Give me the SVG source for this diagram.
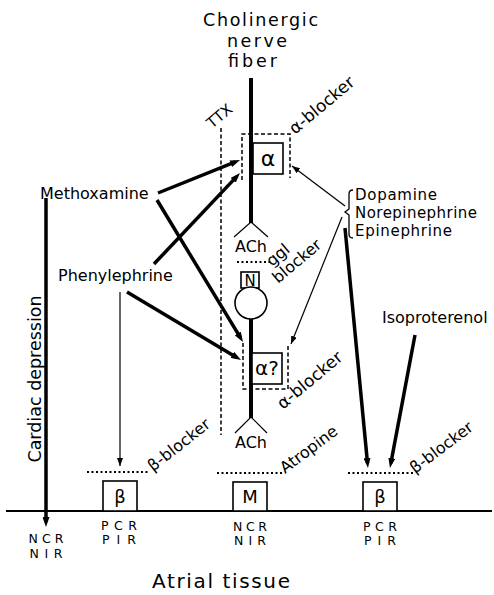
<svg xmlns="http://www.w3.org/2000/svg" width="494" height="595" viewBox="0 0 494 595">
<style>
.t{font-family:"DejaVu Sans","Liberation Sans",sans-serif;fill:#000}
.s16{font-size:16px}
.s15{font-size:15px}
.thick{stroke:#000;stroke-width:3.5;fill:none}
.thin{stroke:#000;stroke-width:1.2;fill:none}
.dot{stroke:#000;stroke-width:2;stroke-dasharray:2 2.5;fill:none}
.dash{stroke:#000;stroke-width:1.5;stroke-dasharray:4 2.5;fill:none}
.box{stroke:#000;stroke-width:1.6;fill:#fff}
.fib{stroke:#000;stroke-width:4;fill:none}
.br{stroke:#000;stroke-width:1.3;fill:none}
.code{font-size:12.5px}
.ttl{font-size:17.5px}
</style>
<defs>
<marker id="ah" markerUnits="userSpaceOnUse" markerWidth="10" markerHeight="7" refX="5" refY="3.5" orient="auto"><path d="M0,0 L10,3.5 L0,7 z" fill="#000"/></marker>
<marker id="ahs" markerUnits="userSpaceOnUse" markerWidth="8" markerHeight="6" refX="8" refY="3" orient="auto"><path d="M0,0 L8,3 L0,6 z" fill="#000"/></marker>
</defs>
<rect width="494" height="595" fill="#fff"/>

<g id="fiber">
<text class="t ttl" x="203" y="26" textLength="115">Cholinergic</text>
<text class="t ttl" x="227" y="46.5" textLength="60">nerve</text>
<text class="t ttl" x="228" y="67" textLength="49">fiber</text>
<line class="fib" x1="251" y1="78" x2="251" y2="223"/>
<path class="thin" stroke-width="1.5" d="M234,237 L251,222 L268,237"/>
<text class="t s16" x="251" y="252" text-anchor="middle">ACh</text>
<line class="fib" x1="251" y1="318" x2="251" y2="418"/>
<path class="thin" stroke-width="1.5" d="M235,433 L251,417 L267,433"/>
<text class="t s16" x="251" y="448" text-anchor="middle">ACh</text>
</g>

<g id="alpha-upper">
<path class="dash" d="M242,180 V134 H290 V178"/>
<rect class="box" x="253" y="143" width="30" height="31"/>
<text class="t" font-size="22" x="268" y="166" text-anchor="middle">α</text>
<text class="t" font-size="17" transform="translate(295,135) rotate(-40)">α-blocker</text>
</g>

<g id="ttx">
<line class="dash" x1="221" y1="128" x2="221" y2="435"/>
<text class="t" font-size="15" transform="translate(212,129) rotate(-40)">TTX</text>
</g>

<g id="ganglion">
<line class="dot" x1="237" y1="262" x2="270" y2="262"/>
<text class="t s16" transform="translate(272,267) rotate(-40)">ggl</text>
<text class="t s16" transform="translate(278,284) rotate(-40)">blocker</text>
<rect class="box" x="241" y="272" width="18" height="16"/>
<text class="t" font-size="15" x="250" y="286" text-anchor="middle">N</text>
<circle class="box" cx="251" cy="303" r="16"/>
</g>

<g id="alpha-lower">
<path class="dash" d="M243,343 V389 H288 V346"/>
<rect class="box" x="252" y="353" width="30" height="31"/>
<text class="t" font-size="20" x="267" y="375" text-anchor="middle">α?</text>
<text class="t" font-size="17" transform="translate(283,410) rotate(-40)">α-blocker</text>
</g>

<g id="methoxamine">
<text class="t s16" x="40" y="199">Methoxamine</text>
</g>
<g id="phenylephrine">
<text class="t s16" x="58" y="281">Phenylephrine</text>
</g>
<g id="catecholamines">
<path class="br" d="M353,190 Q349,190 349,194 V209 L345,212 L349,215 V234 Q349,238 353,238"/>
<text class="t s15" x="355" y="200" textLength="82">Dopamine</text>
<text class="t s15" x="355" y="218" textLength="122">Norepinephrine</text>
<text class="t s15" x="355" y="236" textLength="97">Epinephrine</text>
</g>
<g id="isoproterenol">
<text class="t s16" x="382" y="323">Isoproterenol</text>
</g>
<g id="cardiac">
<text class="t" font-size="17.5" transform="translate(41,379) rotate(-90)" text-anchor="middle">Cardiac depression</text>
</g>

<g id="tissue">
<line stroke="#000" stroke-width="2" x1="6" y1="511" x2="492" y2="511"/>
<text class="t" font-size="20" x="221" y="588" text-anchor="middle" textLength="138">Atrial tissue</text>
<text class="t code" x="46" y="543" text-anchor="middle" textLength="35" lengthAdjust="spacing">NCR</text>
<text class="t code" x="46" y="557.5" text-anchor="middle" textLength="33" lengthAdjust="spacing">NIR</text>
</g>

<g id="beta-left">
<line class="dot" x1="87" y1="472" x2="150" y2="472"/>
<text class="t s16" transform="translate(153,472) rotate(-38)">β-blocker</text>
<rect class="box" x="103" y="481" width="34" height="30"/>
<text class="t" font-size="18" x="120" y="503" text-anchor="middle">β</text>
<text class="t code" x="119" y="529.5" text-anchor="middle" textLength="36" lengthAdjust="spacing">PCR</text>
<text class="t code" x="119" y="544" text-anchor="middle" textLength="34" lengthAdjust="spacing">PIR</text>
</g>

<g id="muscarinic">
<line class="dot" x1="217" y1="473" x2="282" y2="473"/>
<text class="t s16" transform="translate(285,474) rotate(-37)">Atropine</text>
<rect class="box" x="233" y="482" width="34" height="29"/>
<text class="t" font-size="18" x="250" y="503" text-anchor="middle">M</text>
<text class="t code" x="250" y="530.5" text-anchor="middle" textLength="34" lengthAdjust="spacing">NCR</text>
<text class="t code" x="250" y="545" text-anchor="middle" textLength="32" lengthAdjust="spacing">NIR</text>
</g>

<g id="beta-right">
<line class="dot" x1="348" y1="473" x2="413" y2="473"/>
<text class="t s16" transform="translate(415,474) rotate(-37)">β-blocker</text>
<rect class="box" x="363" y="482" width="34" height="29"/>
<text class="t" font-size="18" x="380" y="503" text-anchor="middle">β</text>
<text class="t code" x="380" y="530.5" text-anchor="middle" textLength="34" lengthAdjust="spacing">PCR</text>
<text class="t code" x="380" y="545" text-anchor="middle" textLength="32" lengthAdjust="spacing">PIR</text>
</g>

<g id="connectors">
<line class="thick" x1="158" y1="193" x2="235.4" y2="161.9" marker-end="url(#ah)"/>
<line class="thick" x1="154" y1="264" x2="236.6" y2="176.6" marker-end="url(#ah)"/>
<line class="thick" x1="157" y1="200" x2="240.4" y2="337.7" marker-end="url(#ah)"/>
<line class="thick" x1="127" y1="292" x2="236.7" y2="357.4" marker-end="url(#ah)"/>
<line class="thick" x1="345" y1="228" x2="367.5" y2="463" marker-end="url(#ah)"/>
<line class="thick" x1="415" y1="335" x2="390.9" y2="463.1" marker-end="url(#ah)"/>
<line class="thick" x1="46" y1="198" x2="46" y2="522" marker-end="url(#ah)"/>
<line class="thin" x1="345" y1="206" x2="292" y2="166" marker-end="url(#ahs)"/>
<line class="thin" x1="342" y1="217" x2="291" y2="344" marker-end="url(#ahs)"/>
<line class="thin" x1="120" y1="292" x2="120" y2="466" marker-end="url(#ahs)"/>
</g>
</svg>
